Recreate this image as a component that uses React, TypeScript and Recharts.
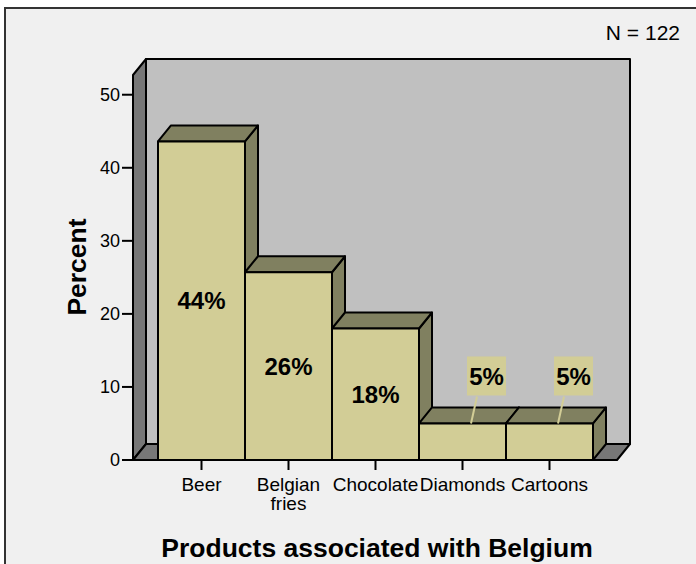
import React from 'react';
import { BarChart, Bar, XAxis, YAxis, ReferenceArea, LabelList, Text } from 'recharts';

// ─── Data ────────────────────────────────────────────────────────

const categories = ['Beer', 'Belgian fries', 'Chocolate', 'Diamonds', 'Cartoons'];
const percents = [43.6, 25.7, 18.0, 5.0, 5.0];
const yTicks = [0, 10, 20, 30, 40, 50];
const sampleSize = 122;

const data = categories.map((name, i) => ({ name, pct: percents[i] }));

// ─── Style ───────────────────────────────────────────────────────

const FONT = 'Arial, "Liberation Sans", Helvetica, sans-serif';
const DEPTH_X = 13;
const DEPTH_Y = 16;
const PAD = { left: 25, right: 24 };
const Y_MAX = 52.7;

const FACE = '#d2cd96';
const SHADE = '#808060';
const WALL = '#c0c0c0';
const WALL_DARK = '#777777';

// Back wall, left wall and floor of the 3D box, sized from the plot area
const Walls = (props: any) => {
  const { x, y, width, height } = props;
  const L = x - PAD.left;
  const R = x + width + PAD.right;
  const T = y;
  const B = y + height;
  const dx = DEPTH_X;
  const dy = DEPTH_Y;
  const line = { stroke: '#000', strokeWidth: 2, strokeLinejoin: 'round' as const };
  return (
    <g>
      <rect x={L + dx} y={T - dy} width={R - L} height={B - T} fill={WALL} {...line} />
      <polygon
        points={`${L},${T} ${L + dx},${T - dy} ${L + dx},${B - dy} ${L},${B}`}
        fill={WALL_DARK}
        {...line}
      />
      <polygon
        points={`${L},${B} ${L + dx},${B - dy} ${R + dx},${B - dy} ${R},${B}`}
        fill={WALL_DARK}
        {...line}
      />
    </g>
  );
};

// One extruded bar: top, right side and front face
const Box3D = (props: any) => {
  const { x, y, width: w, height: h } = props;
  if (h == null || w == null) return null;
  const dx = DEPTH_X;
  const dy = DEPTH_Y;
  const line = { stroke: '#000', strokeWidth: 2, strokeLinejoin: 'round' as const };
  return (
    <g>
      <polygon
        points={`${x + w},${y} ${x + w + dx},${y - dy} ${x + w + dx},${y + h - dy} ${x + w},${y + h}`}
        fill={SHADE}
        {...line}
      />
      <polygon
        points={`${x},${y} ${x + dx},${y - dy} ${x + w + dx},${y - dy} ${x + w},${y}`}
        fill={SHADE}
        {...line}
      />
      <rect x={x} y={y} width={w} height={h} fill={FACE} {...line} />
    </g>
  );
};

// Percentage label: inside tall bars, in a callout box above short ones
const PctLabel = (props: any) => {
  const vb = props.viewBox ?? {};
  const x = Number(props.x ?? vb.x);
  const y = Number(props.y ?? vb.y);
  const w = Number(props.width ?? vb.width);
  const h = Number(props.height ?? vb.height);
  const value = Number(props.value);
  const text = `${Math.round(value)}%`;
  const cx = x + w / 2;
  const style = { fontFamily: FONT, fontWeight: 700, fontSize: 24, fill: '#000' };

  if (value >= 10) {
    return (
      <text x={cx} y={y + h / 2} textAnchor="middle" dominantBaseline="central" style={style}>
        {text}
      </text>
    );
  }
  return (
    <g>
      <line x1={cx + 8.5} y1={y} x2={cx + 14.5} y2={y - 27} stroke={FACE} strokeWidth={2} />
      <rect x={cx + 4.5} y={y - 67} width={39} height={39} fill={FACE} />
      <text x={cx + 24} y={y - 47} textAnchor="middle" dominantBaseline="central" style={style}>
        {text}
      </text>
    </g>
  );
};

const CategoryTick = (props: any) => {
  const { x, y, payload } = props;
  return (
    <Text
      x={x}
      y={y}
      width={88}
      textAnchor="middle"
      verticalAnchor="start"
      lineHeight={19}
      style={{ fontFamily: FONT, fontSize: 19, fill: '#000' }}
    >
      {payload.value}
    </Text>
  );
};

// ─── Component ───────────────────────────────────────────────────

export default function App() {
  return (
    <div
      style={{
        position: 'absolute',
        left: 0,
        top: 0,
        width: 696,
        height: 564,
        overflow: 'hidden',
        background: '#fff',
      }}
    >
      {/* outer frame, right and bottom edges fall outside the picture */}
      <div
        style={{
          position: 'absolute',
          left: 4,
          top: 7,
          width: 720,
          height: 600,
          background: '#f0f0f0',
          border: '2px solid #333',
        }}
      />

      <div style={{ position: 'absolute', left: 0, top: 0 }}>
        <BarChart
          width={696}
          height={564}
          data={data}
          margin={{ top: 75, right: 79, bottom: 44, left: 73 }}
          barCategoryGap={0}
        >
          <XAxis
            dataKey="name"
            height={60}
            padding={PAD}
            interval={0}
            axisLine={false}
            tickSize={10}
            tickMargin={8}
            tickLine={{ stroke: '#000', strokeWidth: 2 }}
            tick={<CategoryTick />}
          />
          <YAxis
            width={60}
            domain={[0, Y_MAX]}
            ticks={yTicks}
            allowDataOverflow
            axisLine={false}
            tickSize={11}
            tickMargin={2}
            tickLine={{ stroke: '#000', strokeWidth: 2 }}
            tick={{ fill: '#000', fontSize: 18, fontFamily: FONT }}
          />
          <ReferenceArea y1={0} y2={Y_MAX} shape={<Walls />} zIndex={-50} />
          <Bar dataKey="pct" shape={<Box3D />} isAnimationActive={false}>
            <LabelList dataKey="pct" content={<PctLabel />} />
          </Bar>
        </BarChart>
      </div>

      {/* titles */}
      <svg
        width={696}
        height={564}
        style={{ position: 'absolute', left: 0, top: 0, pointerEvents: 'none' }}
      >
        <text x={680} y={40} textAnchor="end" style={{ fontFamily: FONT, fontSize: 21, fill: '#000' }}>
          N = {sampleSize}
        </text>
        <text
          x={377}
          y={557}
          textAnchor="middle"
          style={{ fontFamily: FONT, fontSize: 26.5, fontWeight: 700, fill: '#000' }}
        >
          Products associated with Belgium
        </text>
        <text
          transform="translate(86, 267) rotate(-90)"
          textAnchor="middle"
          style={{ fontFamily: FONT, fontSize: 26.5, fontWeight: 700, fill: '#000' }}
        >
          Percent
        </text>
      </svg>
    </div>
  );
}
